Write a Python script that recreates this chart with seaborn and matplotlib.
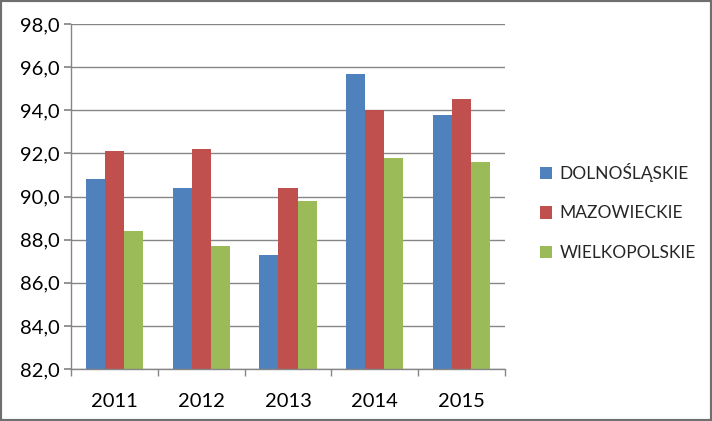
import matplotlib
matplotlib.use("Agg")
import matplotlib.pyplot as plt
import seaborn as sns
import pandas as pd
from matplotlib.patches import Rectangle
from matplotlib.ticker import FuncFormatter

years = ["2011", "2012", "2013", "2014", "2015"]
dolnoslaskie = [90.8, 90.4, 87.3, 95.7, 93.8]
mazowieckie = [92.1, 92.2, 90.4, 94.0, 94.5]
wielkopolskie = [88.4, 87.7, 89.8, 91.8, 91.6]
series_names = ["DOLNOŚLĄSKIE", "MAZOWIECKIE", "WIELKOPOLSKIE"]
colors = ["#4F81BD", "#C0504D", "#9BBB59"]

rows = []
for name, vals in zip(series_names, [dolnoslaskie, mazowieckie, wielkopolskie]):
    for y, v in zip(years, vals):
        rows.append({"year": y, "value": v, "region": name})
df = pd.DataFrame(rows)

sns.set_theme(style="white")
plt.rcParams["font.family"] = ["Lato", "DejaVu Sans"]

fig = plt.figure(figsize=(7.12, 4.21), dpi=100)
ax = fig.add_axes([71/712, 1-369/421, (505-71)/712, (369-24)/421])

sns.barplot(data=df, x="year", y="value", hue="region", palette=colors,
            width=0.66, ax=ax, saturation=1, edgecolor="none", linewidth=0)

ax.set_ylim(82, 98)
ax.set_yticks([82, 84, 86, 88, 90, 92, 94, 96, 98])
ax.yaxis.set_major_formatter(FuncFormatter(lambda v, p: f"{v:.1f}".replace(".", ",")))
ax.set_xlim(-0.5, 4.5)
ax.set_xlabel("")
ax.set_ylabel("")
ax.grid(axis="y", color="#868686", linewidth=1)
ax.set_axisbelow(True)
for s in ["top", "right"]:
    ax.spines[s].set_visible(False)
for s in ["left", "bottom"]:
    ax.spines[s].set_color("#868686")
    ax.spines[s].set_linewidth(1)

ax.tick_params(axis="y", which="major", left=True, length=5, color="#868686",
               labelsize=14.5, labelcolor="black", pad=3)
ax.set_xticks([0, 1, 2, 3, 4])
ax.set_xticklabels(years)
ax.tick_params(axis="x", which="major", bottom=False, labelsize=14.5,
               labelcolor="black", pad=11)
ax.set_xticks([-0.5, 0.5, 1.5, 2.5, 3.5, 4.5], minor=True)
ax.tick_params(axis="x", which="minor", bottom=True, length=5, color="#868686", width=1)

leg = ax.legend(loc="center left", bbox_to_anchor=(524/712, 1-212/421),
                bbox_transform=fig.transFigure, frameon=False, fontsize=12.5,
                handlelength=0.7, handleheight=0.7, handletextpad=0.45,
                labelspacing=1.35)

fig.patches.append(Rectangle((0, 0), 1, 1, transform=fig.transFigure,
                             fill=False, edgecolor="#6f6f6f", linewidth=3))

fig.savefig("out.png", dpi=100, facecolor="white")
